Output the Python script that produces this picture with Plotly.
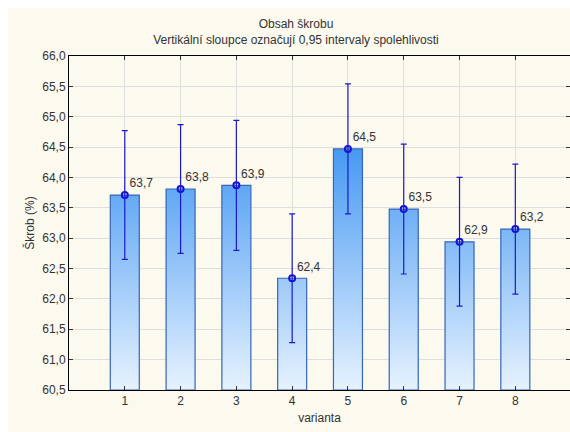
import plotly.graph_objects as go

# ---- data ----
varianta = [1, 2, 3, 4, 5, 6, 7, 8]
prumer = [63.71, 63.81, 63.87, 62.34, 64.47, 63.48, 62.94, 63.15]
ci95 = [1.06, 1.06, 1.07, 1.06, 1.07, 1.07, 1.06, 1.07]
labels = ["63,7", "63,8", "63,9", "62,4", "64,5", "63,5", "62,9", "63,2"]
y_ticks = [60.5, 61.0, 61.5, 62.0, 62.5, 63.0, 63.5, 64.0, 64.5, 65.0, 65.5, 66.0]
y_min, y_max = 60.5, 66.0
half_w = 0.26

W, H = 570, 432
ml, mr, mt, mb = 69, 0, 56, 42

fig = go.Figure()

# bars drawn as filled rectangles so they can carry a vertical gradient
for xv, m in zip(varianta, prumer):
    fig.add_trace(go.Scatter(
        x=[xv - half_w, xv + half_w, xv + half_w, xv - half_w, xv - half_w],
        y=[y_min, y_min, m, m, y_min],
        mode="lines",
        fill="toself",
        fillgradient=dict(type="vertical",
                          colorscale=[[0, "#E6F2FE"], [1, "#3E94F2"]],
                          start=y_min, stop=64.7),
        line=dict(color="#3566B8", width=1.2),
        hoverinfo="skip",
        showlegend=False,
    ))

# means with confidence intervals
fig.add_trace(go.Scatter(
    x=varianta, y=prumer,
    mode="markers+text",
    text=labels,
    textposition="top right",
    textfont=dict(family="Liberation Sans, Arial, sans-serif", size=12, color="#333333"),
    marker=dict(symbol="circle-open", size=6, color="#1414D2", line=dict(width=2, color="#1414D2")),
    error_y=dict(type="data", array=ci95, symmetric=True, color="#1A1ACB", thickness=1.2, width=3),
    showlegend=False,
))

# cream panel background
px_w = W - ml - mr
px_h = H - mt - mb
fig.add_shape(type="rect", xref="paper", yref="paper", layer="below",
              x0=(8 - ml) / px_w, x1=1.0,
              y0=(H - mb - H) / px_h, y1=(H - mb - 8) / px_h,
              fillcolor="#FCF9EF", line=dict(width=0))

fig.update_layout(
    width=W, height=H,
    margin=dict(l=ml, r=mr, t=mt, b=mb, pad=0, autoexpand=False),
    paper_bgcolor="white",
    plot_bgcolor="white",
    separators=",.",
    font=dict(family="Liberation Sans, Arial, sans-serif", size=12, color="#333333"),
    title=dict(
        text="Obsah škrobu<br>Vertikální sloupce označují 0,95 intervaly spolehlivosti",
        x=296 / W, xanchor="center", y=1 - 28 / H, yanchor="top",
        font=dict(size=12, color="#333333"),
    ),
    xaxis=dict(
        range=[0, 8.98],
        tickmode="array", tickvals=varianta, ticktext=[str(v) for v in varianta],
        showgrid=True, gridcolor="#DEDEDE", gridwidth=1,
        showline=True, linecolor="black", linewidth=1, mirror="ticks",
        ticks="inside", ticklen=4, tickcolor="#333333",
        zeroline=False, automargin=False,
        title=dict(text="varianta", standoff=6, font=dict(size=12, color="#333333")),
    ),
    yaxis=dict(
        range=[y_min, y_max],
        tickmode="array", tickvals=y_ticks,
        tickformat=".1f",
        showgrid=True, gridcolor="#DEDEDE", gridwidth=1,
        showline=True, linecolor="black", linewidth=1, mirror="ticks",
        ticks="inside", ticklen=4, tickcolor="#333333",
        zeroline=False, automargin=False,
        title=dict(text="Škrob (%)", standoff=5, font=dict(size=12, color="#333333")),
    ),
)

# cut-off text at the very top of the picture (as in the reference)
fig.add_annotation(text="(%)", xref="paper", yref="paper",
                   x=(395 - ml) / px_w, y=(H - mb + 4) / px_h,
                   xanchor="center", yanchor="bottom", showarrow=False,
                   font=dict(size=21, color="#333333"))

# remove the default 8px page margin so the figure fills the window exactly
fig.write_html("out.html", config={"displayModeBar": False},
               post_script="document.body.style.margin='0';")
